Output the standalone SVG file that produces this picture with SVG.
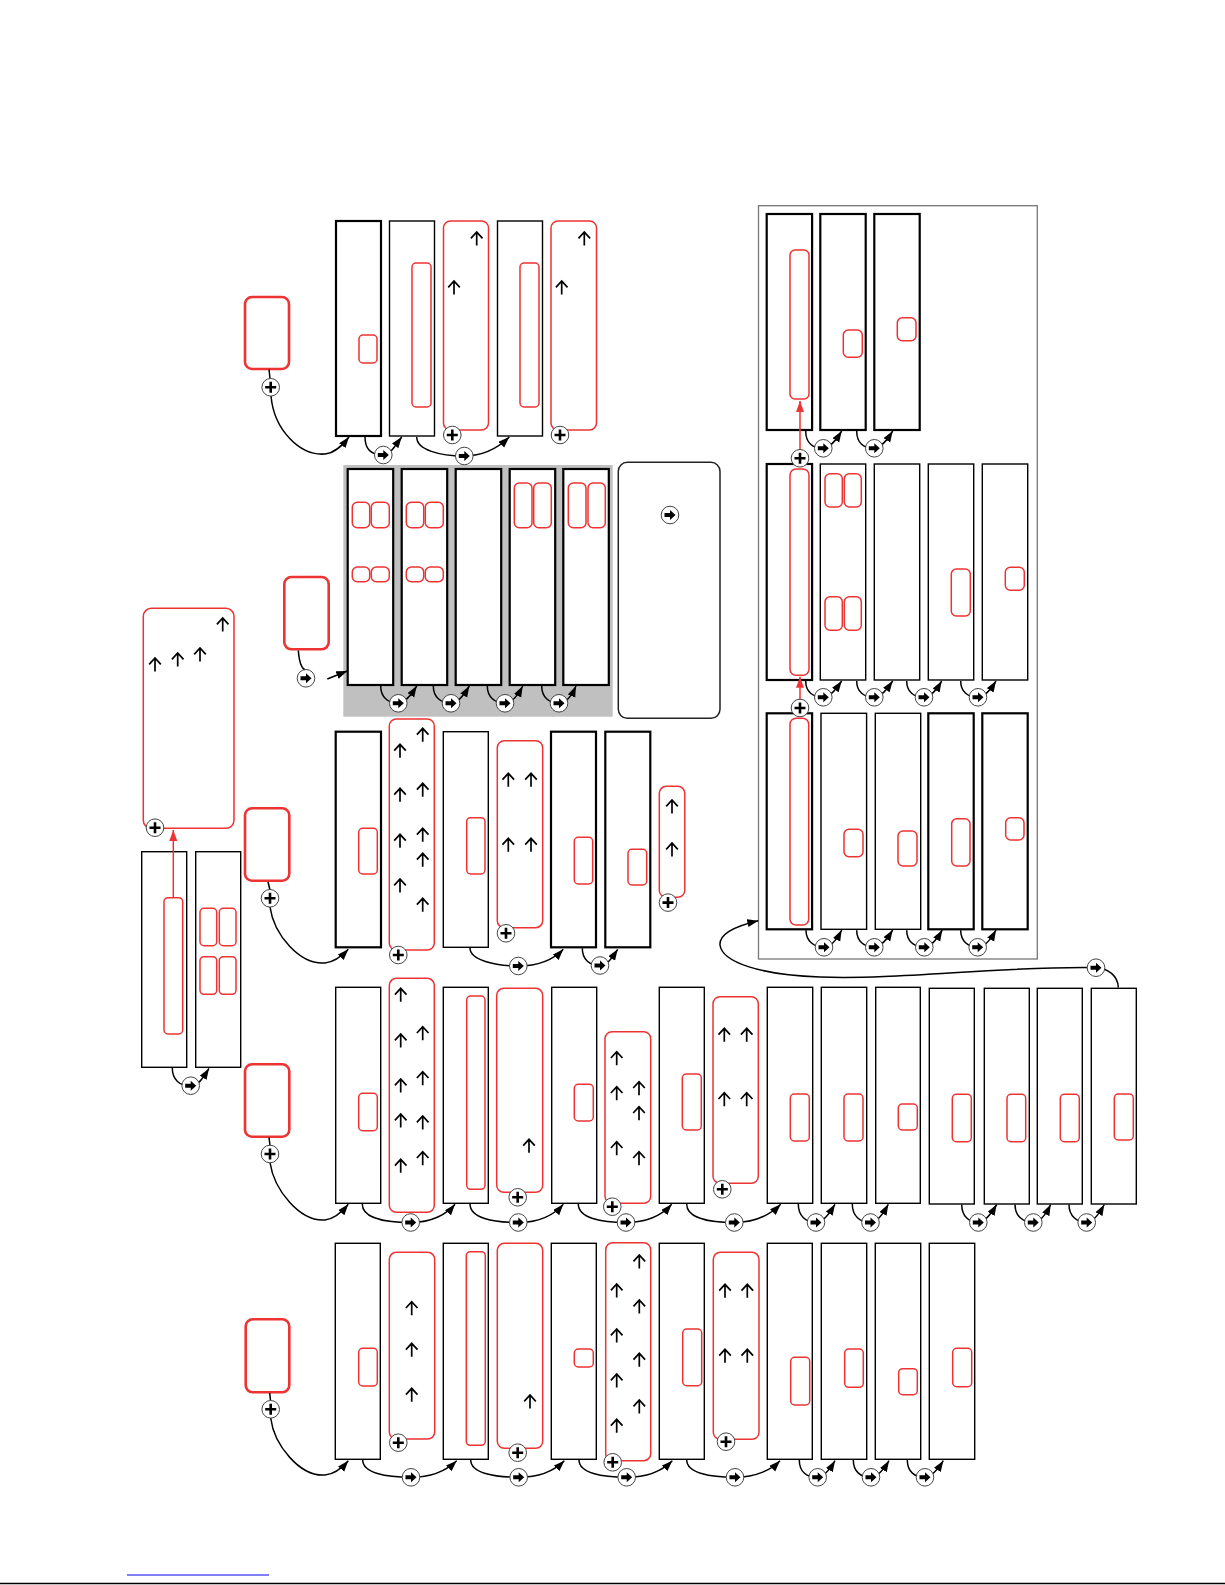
<svg xmlns="http://www.w3.org/2000/svg" xmlns:xlink="http://www.w3.org/1999/xlink" width="1225" height="1585" viewBox="0 0 1225 1585">
<style>
.rk{fill:#fff;stroke:#000;stroke-width:2.2}
.rn{fill:#fff;stroke:#000;stroke-width:1.4}
.rr{fill:none;stroke:#ee3333;stroke-width:1.5}
.rt{fill:#fff;stroke:#ee3333;stroke-width:2.6}
.cn{fill:none;stroke:#000;stroke-width:1.5;marker-end:url(#ah)}
.cl{fill:none;stroke:#000;stroke-width:1.5}
.ra{fill:none;stroke:#ee3333;stroke-width:1.5;marker-end:url(#ahr)}
.ua{fill:none;stroke:#000;stroke-width:1.7}
</style>
<defs>
<marker id="ah" markerWidth="12" markerHeight="9" refX="11" refY="4" orient="auto" markerUnits="userSpaceOnUse"><path d="M0,0 L11,4 L0,8 z" fill="#000"/></marker>
<marker id="ahr" markerWidth="12" markerHeight="9" refX="11" refY="4" orient="auto" markerUnits="userSpaceOnUse"><path d="M0,0 L11,4 L0,8 z" fill="#ee3333"/></marker>
<g id="pl"><circle r="8.8" fill="#fff" stroke="#444" stroke-width="1"/><path d="M-5.5,0 H5.5 M0,-5.5 V5.5" stroke="#000" stroke-width="2.6"/></g>
<g id="go"><circle r="8.8" fill="#fff" stroke="#444" stroke-width="1"/><path d="M-5.5,-2 H0 V-5 L5.5,0 L0,5 V2 H-5.5 Z" fill="#000"/></g>
<path id="ua" class="ua" d="M0,0 V13.5 M-5.8,6.3 L0,0 L5.8,6.3"/>
</defs>
<rect width="1225" height="1585" fill="#fff"/>

<rect x="343.3" y="465" width="269.4" height="251.7" fill="#c0c0c0"/>
<rect id="panel" x="758.5" y="205.7" width="278.8" height="753.3" fill="none" stroke="#777" stroke-width="1.3"/>

<!-- ROW 1 -->
<g id="r1-start"><rect class="rt" x="245" y="297" width="44" height="72" rx="7"/></g>
<g id="r1-n1"><rect class="rk" x="336" y="221" width="45" height="215"/><rect class="rr" x="359" y="335" width="18" height="28" rx="4"/></g>
<g id="r1-n2"><rect class="rn" x="389.5" y="221" width="45" height="215"/><rect class="rr" x="412" y="263" width="19" height="144" rx="4"/></g>
<g id="r1-n3"><rect class="rr" x="443.5" y="221" width="45" height="209" rx="7"/><use href="#ua" x="476.7" y="232"/><use href="#ua" x="454" y="281"/></g>
<g id="r1-n4"><rect class="rn" x="497.5" y="221" width="45" height="215"/><rect class="rr" x="520" y="263" width="19" height="144" rx="4"/></g>
<g id="r1-n5"><rect class="rr" x="551" y="221" width="45.5" height="209" rx="7"/><use href="#ua" x="584.3" y="232"/><use href="#ua" x="561.7" y="281"/></g>

<!-- ROW 2 (gray) -->
<g id="r2-start"><rect class="rt" x="284.3" y="577" width="44.4" height="72.3" rx="7"/></g>
<g id="r2-n1"><rect class="rk" x="347.7" y="469" width="45.5" height="216"/>
<rect class="rr" x="352.3" y="502.3" width="17.4" height="25.4" rx="5"/><rect class="rr" x="371.3" y="502.3" width="18" height="25.4" rx="5"/>
<rect class="rr" x="352.3" y="567" width="17.4" height="14.7" rx="5"/><rect class="rr" x="371.3" y="567" width="18" height="14.7" rx="5"/></g>
<g id="r2-n2"><rect class="rk" x="401.7" y="469" width="45.5" height="216"/>
<rect class="rr" x="406.3" y="502.3" width="17.4" height="25.4" rx="5"/><rect class="rr" x="425.3" y="502.3" width="18" height="25.4" rx="5"/>
<rect class="rr" x="406.3" y="567" width="17.4" height="14.7" rx="5"/><rect class="rr" x="425.3" y="567" width="18" height="14.7" rx="5"/></g>
<g id="r2-n3"><rect class="rk" x="455.7" y="469" width="45.5" height="216"/></g>
<g id="r2-n4"><rect class="rk" x="509.7" y="469" width="45.5" height="216"/>
<rect class="rr" x="514.3" y="483" width="17.7" height="44.7" rx="5"/><rect class="rr" x="533.7" y="483" width="17.6" height="44.7" rx="5"/></g>
<g id="r2-n5"><rect class="rk" x="563.3" y="469" width="45.5" height="216"/>
<rect class="rr" x="568.3" y="483" width="17.7" height="44.7" rx="5"/><rect class="rr" x="588" y="483" width="17.3" height="44.7" rx="5"/></g>
<g id="legend"><rect x="618.3" y="462.3" width="101.7" height="256" rx="9" fill="#fff" stroke="#222" stroke-width="1.5"/><use href="#go" x="670" y="515"/></g>

<!-- LEFT pair -->
<g id="l-big"><rect class="rr" x="143.3" y="608.3" width="90.7" height="220" rx="8"/>
<use href="#ua" x="222.7" y="618"/><use href="#ua" x="155" y="658"/><use href="#ua" x="177.7" y="653"/><use href="#ua" x="200" y="648"/></g>
<g id="l-a"><rect class="rn" x="141.7" y="851.7" width="45" height="215.6"/><rect class="rr" x="164" y="897.7" width="18.7" height="136.3" rx="4"/></g>
<g id="l-b"><rect class="rn" x="195.7" y="851.7" width="45" height="215.6"/>
<rect class="rr" x="200" y="908.3" width="16.7" height="37.4" rx="4"/><rect class="rr" x="219.3" y="908.3" width="16.7" height="37.4" rx="4"/>
<rect class="rr" x="200" y="956.7" width="16.7" height="37.6" rx="4"/><rect class="rr" x="219.3" y="956.7" width="16.7" height="37.6" rx="4"/></g>

<!-- ROW 3 -->
<g id="r3-start"><rect class="rt" x="245" y="808.3" width="44.3" height="72.4" rx="7"/></g>
<g id="r3-n1"><rect class="rk" x="335.7" y="731.7" width="45.3" height="215.6"/><rect class="rr" x="358.7" y="828.3" width="18.6" height="45.7" rx="4"/></g>
<g id="r3-n2"><rect class="rr" x="389.3" y="719" width="45" height="231" rx="7"/>
<use href="#ua" x="400" y="744.3"/><use href="#ua" x="400" y="788.3"/><use href="#ua" x="400" y="834.3"/><use href="#ua" x="400" y="879"/>
<use href="#ua" x="422.7" y="728.3"/><use href="#ua" x="422.7" y="783.3"/><use href="#ua" x="422.7" y="828.3"/><use href="#ua" x="422.7" y="853.3"/><use href="#ua" x="422.7" y="898.3"/></g>
<g id="r3-n3"><rect class="rn" x="443.3" y="731.7" width="45" height="215.6"/><rect class="rr" x="466.7" y="817.7" width="18.3" height="56.3" rx="4"/></g>
<g id="r3-n4"><rect class="rr" x="497.3" y="740.7" width="45.4" height="187" rx="7"/>
<use href="#ua" x="508.3" y="773.3"/><use href="#ua" x="531" y="773.3"/><use href="#ua" x="508.3" y="838.3"/><use href="#ua" x="531" y="838.3"/></g>
<g id="r3-n5"><rect class="rk" x="551" y="731.7" width="45" height="215.6"/><rect class="rr" x="574.3" y="837.3" width="18.4" height="46.7" rx="4"/></g>
<g id="r3-n6"><rect class="rk" x="605.3" y="731.7" width="45" height="215.6"/><rect class="rr" x="628" y="849.3" width="18.7" height="35.7" rx="4"/></g>
<g id="r3-n7"><rect class="rr" x="659.3" y="786.3" width="25.5" height="111" rx="7"/><use href="#ua" x="672" y="800"/><use href="#ua" x="672" y="843"/></g>

<!-- RIGHT PANEL row A -->
<g id="pa-1"><rect class="rk" x="766.7" y="214" width="45.4" height="216"/><rect class="rr" x="790" y="250" width="19" height="149" rx="5"/></g>
<g id="pa-2"><rect class="rk" x="820.3" y="214" width="45.4" height="216"/><rect class="rr" x="843.3" y="330" width="19" height="27.3" rx="5"/></g>
<g id="pa-3"><rect class="rk" x="874.3" y="214" width="45.4" height="216"/><rect class="rr" x="897.3" y="317.7" width="18.7" height="23" rx="5"/></g>
<!-- row B -->
<g id="pb-1"><rect class="rk" x="766.7" y="464" width="45.4" height="216"/><rect class="rr" x="790" y="469" width="19" height="206.3" rx="6"/></g>
<g id="pb-2"><rect class="rn" x="820.3" y="464" width="45.4" height="216"/>
<rect class="rr" x="825" y="473.7" width="17.3" height="33.3" rx="5"/><rect class="rr" x="844.3" y="473.7" width="17" height="33.3" rx="5"/>
<rect class="rr" x="825" y="596.7" width="17.3" height="33.6" rx="5"/><rect class="rr" x="844.3" y="596.7" width="17" height="33.6" rx="5"/></g>
<g id="pb-3"><rect class="rn" x="874.3" y="464" width="45.4" height="216"/></g>
<g id="pb-4"><rect class="rn" x="928.3" y="464" width="45.4" height="216"/><rect class="rr" x="951.3" y="569" width="19" height="47" rx="5"/></g>
<g id="pb-5"><rect class="rn" x="982.3" y="464" width="45.4" height="216"/><rect class="rr" x="1005.3" y="567.3" width="19" height="23" rx="5"/></g>
<!-- row C -->
<g id="pc-1"><rect class="rk" x="766.7" y="713.3" width="45.4" height="216"/><rect class="rr" x="790" y="718.3" width="18.7" height="206.7" rx="6"/></g>
<g id="pc-2"><rect class="rn" x="821" y="713.3" width="45.6" height="216"/><rect class="rr" x="844" y="829.3" width="19" height="27.4" rx="5"/></g>
<g id="pc-3"><rect class="rn" x="875.3" y="713.3" width="45.4" height="216"/><rect class="rr" x="898" y="831" width="19" height="35" rx="5"/></g>
<g id="pc-4"><rect class="rk" x="928.3" y="713.3" width="45.4" height="216"/><rect class="rr" x="951.7" y="818.7" width="18.3" height="47.3" rx="5"/></g>
<g id="pc-5"><rect class="rk" x="982.3" y="713.3" width="45.4" height="216"/><rect class="rr" x="1005.7" y="817.7" width="18.3" height="22.3" rx="5"/></g>

<!-- ROW 4 -->
<g id="r4-start"><rect class="rt" x="245" y="1064.3" width="44.3" height="72.4" rx="7"/></g>
<g id="r4-n1"><rect class="rn" x="335.7" y="987.3" width="45" height="216"/><rect class="rr" x="358.7" y="1093.3" width="18.6" height="37.4" rx="4"/></g>
<g id="r4-n2"><rect class="rr" x="389.3" y="978.3" width="45" height="234" rx="7"/>
<use href="#ua" x="400.7" y="988.3"/><use href="#ua" x="400.7" y="1034"/><use href="#ua" x="400.7" y="1079"/><use href="#ua" x="400.7" y="1114"/><use href="#ua" x="400.7" y="1159.3"/>
<use href="#ua" x="422.7" y="1026.7"/><use href="#ua" x="422.7" y="1071.7"/><use href="#ua" x="422.7" y="1116"/><use href="#ua" x="422.7" y="1151.7"/></g>
<g id="r4-n3"><rect class="rn" x="443.3" y="987.3" width="45" height="216"/><rect class="rr" x="466.7" y="996" width="18.3" height="193.3" rx="4"/></g>
<g id="r4-n4"><rect class="rr" x="496.7" y="988.3" width="46" height="204" rx="7"/><use href="#ua" x="529" y="1139.3"/></g>
<g id="r4-n5"><rect class="rn" x="551.7" y="987.3" width="45" height="216"/><rect class="rr" x="574.3" y="1084.3" width="19" height="36.7" rx="4"/></g>
<g id="r4-n6"><rect class="rr" x="605" y="1031.7" width="45.7" height="171.6" rx="7"/>
<use href="#ua" x="616.7" y="1051.7"/><use href="#ua" x="616.7" y="1086.7"/><use href="#ua" x="616.7" y="1141.7"/>
<use href="#ua" x="639" y="1081.7"/><use href="#ua" x="639" y="1106.7"/><use href="#ua" x="639" y="1151.7"/></g>
<g id="r4-n7"><rect class="rn" x="659.3" y="987.3" width="45" height="216"/><rect class="rr" x="682.3" y="1074" width="19" height="56" rx="4"/></g>
<g id="r4-n8"><rect class="rr" x="713" y="996.7" width="45.3" height="186.6" rx="7"/>
<use href="#ua" x="724.3" y="1028.3"/><use href="#ua" x="746.7" y="1028.3"/><use href="#ua" x="724.3" y="1092.7"/><use href="#ua" x="746.7" y="1092.7"/></g>
<g id="r4-n9"><rect class="rn" x="767.3" y="987.3" width="45.4" height="216"/><rect class="rr" x="790.3" y="1094" width="19" height="47" rx="4"/></g>
<g id="r4-n10"><rect class="rn" x="821.3" y="987.3" width="45.4" height="216"/><rect class="rr" x="844" y="1094" width="19" height="47" rx="4"/></g>
<g id="r4-n11"><rect class="rn" x="875.7" y="987.3" width="44.6" height="216"/><rect class="rr" x="898.3" y="1104" width="19" height="26" rx="4"/></g>
<g id="r4-n12"><rect class="rn" x="929.3" y="988.3" width="45" height="215.7"/><rect class="rr" x="952.3" y="1094.3" width="19" height="47.4" rx="4"/></g>
<g id="r4-n13"><rect class="rn" x="984.3" y="988.3" width="45" height="215.7"/><rect class="rr" x="1007" y="1094.3" width="18.7" height="47.4" rx="4"/></g>
<g id="r4-n14"><rect class="rn" x="1037.3" y="988.3" width="45" height="215.7"/><rect class="rr" x="1060.3" y="1094.3" width="19" height="47.4" rx="4"/></g>
<g id="r4-n15"><rect class="rn" x="1091.3" y="988.3" width="45" height="215.7"/><rect class="rr" x="1114.3" y="1094" width="19" height="46" rx="4"/></g>

<!-- ROW 5 -->
<g id="r5-start"><rect class="rt" x="245.7" y="1319.3" width="43.6" height="73" rx="7"/></g>
<g id="r5-n1"><rect class="rn" x="335.3" y="1243.3" width="45" height="216"/><rect class="rr" x="358.7" y="1348.3" width="18.6" height="37.7" rx="4"/></g>
<g id="r5-n2"><rect class="rr" x="389.3" y="1252.3" width="45.4" height="186.7" rx="7"/>
<use href="#ua" x="411.7" y="1301.7"/><use href="#ua" x="411.7" y="1343.3"/><use href="#ua" x="411.7" y="1388.3"/></g>
<g id="r5-n3"><rect class="rn" x="443.3" y="1243.3" width="45" height="216"/><rect class="rr" x="466.3" y="1251.7" width="19" height="193.6" rx="4"/></g>
<g id="r5-n4"><rect class="rr" x="497.3" y="1243.3" width="45.4" height="205" rx="7"/><use href="#ua" x="530" y="1395"/></g>
<g id="r5-n5"><rect class="rn" x="551.3" y="1243.3" width="45" height="216"/><rect class="rr" x="574.3" y="1349" width="19" height="18" rx="4"/></g>
<g id="r5-n6"><rect class="rr" x="605.7" y="1242.7" width="45" height="218" rx="7"/>
<use href="#ua" x="616.7" y="1284"/><use href="#ua" x="616.7" y="1329"/><use href="#ua" x="616.7" y="1374"/><use href="#ua" x="616.7" y="1419.3"/>
<use href="#ua" x="639.3" y="1255"/><use href="#ua" x="639.3" y="1300"/><use href="#ua" x="639.3" y="1353.3"/><use href="#ua" x="639.3" y="1400"/></g>
<g id="r5-n7"><rect class="rn" x="659.3" y="1243.3" width="45" height="216"/><rect class="rr" x="682.7" y="1329" width="19" height="56.7" rx="4"/></g>
<g id="r5-n8"><rect class="rr" x="713.3" y="1252.3" width="45.7" height="187" rx="7"/>
<use href="#ua" x="725" y="1284.3"/><use href="#ua" x="747.3" y="1284.3"/><use href="#ua" x="725" y="1349.3"/><use href="#ua" x="747.3" y="1349.3"/></g>
<g id="r5-n9"><rect class="rn" x="767.3" y="1243.3" width="45" height="216"/><rect class="rr" x="790.7" y="1357.3" width="19" height="47.7" rx="4"/></g>
<g id="r5-n10"><rect class="rn" x="821.3" y="1243.3" width="45.4" height="216"/><rect class="rr" x="844.7" y="1349" width="18.6" height="38.3" rx="4"/></g>
<g id="r5-n11"><rect class="rn" x="875.3" y="1243.3" width="45.4" height="216"/><rect class="rr" x="898.7" y="1368.7" width="18.6" height="26" rx="4"/></g>
<g id="r5-n12"><rect class="rn" x="929.3" y="1243.3" width="45.4" height="216"/><rect class="rr" x="952.7" y="1348.3" width="19" height="38.4" rx="4"/></g>

<g id="connectors">
<path class="cl" d="M269,369.5 L270,378.5"/>
<path class="cn" d="M271,396 C274,430 300,456 325,454 C335,453 342,446 349,437"/>
<path class="cn" d="M365,437 C365,450 372,455 383,455 C390,455 395,446 401.7,437"/>
<path class="cn" d="M416.7,437 C416.7,450 440,456 464,456 C485,456 500,446 509.3,437"/>
<path class="cl" d="M298.3,650.5 C299,660 301,668 305,670"/>
<path class="cn" d="M327.3,679 L347.3,671"/>
<path class="cn" d="M380.7,686 C380.7,697 388,703.3 398.3,703.3 C405,703.3 411,695 416.7,686"/>
<path class="cn" d="M433.3,686 C433.3,697 441,703.3 451,703.3 C458,703.3 464,695 469.3,686"/>
<path class="cn" d="M487.3,686 C487.3,697 495,703.3 505,703.3 C512,703.3 518,695 522.7,686"/>
<path class="cn" d="M541.7,686 C541.7,697 549,703.3 559,703.3 C566,703.3 572,695 576,686"/>
<path class="ra" d="M173.3,898 L173.3,830"/>
<path class="cn" d="M172.3,1068 C172.3,1080 180,1086 190.7,1086 C198,1086 203,1078 209,1068.5"/>
<path class="cl" d="M268,882 L270,890"/>
<path class="cn" d="M270,907 C274,935 300,965 325,963 C335,962 342,956 348.3,949.3"/>
<path class="cn" d="M470,948 C470,960 495,966 518.3,966 C540,966 555,958 563.3,949.3"/>
<path class="cn" d="M582.3,948.3 C582.3,960 590,965.5 600,965.5 C607,965.5 612,958 617.7,949.3"/>
<path class="ra" d="M800,450 L800,401"/>
<path class="ra" d="M800,700 L800,676.7"/>
<path class="cn" d="M805.7,431 C805.7,443 813,448.3 823.3,448.3 C830,448.3 836,440 841.7,431"/>
<path class="cn" d="M856.7,431 C856.7,443 864,448.3 874.3,448.3 C881,448.3 887,440 892.7,431"/>
<path class="cn" d="M805.7,681 C805.7,692 813,697.3 823.3,697.3 C830,697.3 836,689 841.7,681"/>
<path class="cn" d="M856.7,681 C856.7,692 864,697.3 874.3,697.3 C881,697.3 887,689 892.7,681"/>
<path class="cn" d="M906.7,681 C906.7,692 914,697.3 924,697.3 C931,697.3 937,689 941.7,681"/>
<path class="cn" d="M960.7,681 C960.7,692 968,697.3 978,697.3 C985,697.3 991,689 996,681"/>
<path class="cn" d="M806,930.3 C806,941 814,947.3 824,947.3 C831,947.3 837,939 841.7,930"/>
<path class="cn" d="M856.7,930.3 C856.7,941 864,947.3 874.3,947.3 C881,947.3 887,939 892.7,930"/>
<path class="cn" d="M906.7,930.3 C906.7,941 914,947.3 924.3,947.3 C931,947.3 937,939 942.3,930"/>
<path class="cn" d="M960.7,930.3 C960.7,941 968,947.3 977.7,947.3 C985,947.3 991,939 996,930"/>
<path class="cl" d="M1118.3,987.5 C1118,976 1108,968 1096,967.7"/>
<path class="cn" d="M1096,967.7 C1000,966 900,980 820,977 C760,975 722,962 720,945 C719,932 740,925 758.3,920.7"/>
<path class="cl" d="M269,1137.5 L270,1145.5"/>
<path class="cn" d="M270,1162.5 C274,1190 300,1222 325,1220 C335,1219 342,1212 348.3,1204.3"/>
<path class="cn" d="M362.3,1204 C362.3,1218 385,1222.5 410.7,1222.5 C432,1222.5 447,1214 455,1204.3"/>
<path class="cn" d="M470,1204 C470,1218 493,1222.5 518.3,1222.5 C540,1222.5 555,1214 563.3,1204.3"/>
<path class="cn" d="M578.3,1204 C578.3,1218 601,1222.5 626,1222.5 C648,1222.5 663,1214 671.7,1204.3"/>
<path class="cn" d="M686.7,1204 C686.7,1218 709,1222.5 734.3,1222.5 C756,1222.5 771,1214 780.7,1204.3"/>
<path class="cn" d="M798.3,1204 C798.3,1216 806,1222.5 816,1222.5 C823,1222.5 829,1214 835,1204.3"/>
<path class="cn" d="M852.3,1204 C852.3,1216 860,1222.5 870.5,1222.5 C877,1222.5 883,1214 888.3,1204.3"/>
<path class="cn" d="M961.7,1204.5 C961.7,1216 969,1222.5 978.3,1222.5 C985,1222.5 991,1214 996.7,1204.5"/>
<path class="cn" d="M1015,1204.5 C1015,1216 1023,1222.5 1033.3,1222.5 C1040,1222.5 1046,1214 1050.7,1204.5"/>
<path class="cn" d="M1069,1204.5 C1069,1216 1077,1222.5 1086.7,1222.5 C1093,1222.5 1099,1214 1104.3,1204.5"/>
<path class="cl" d="M269.7,1393 L270.5,1400.5"/>
<path class="cn" d="M270.7,1418 C274,1445 300,1477 325,1475 C335,1474 342,1468 348.3,1460.7"/>
<path class="cn" d="M362.7,1460 C362.7,1473 386,1477.3 411,1477.3 C433,1477.3 448,1469 456.7,1460.7"/>
<path class="cn" d="M470.7,1460 C470.7,1473 494,1477.3 518.7,1477.3 C541,1477.3 556,1469 564.3,1460.7"/>
<path class="cn" d="M579,1460 C579,1473 602,1477.3 626.7,1477.3 C649,1477.3 664,1469 672.3,1460.7"/>
<path class="cn" d="M686.7,1460 C686.7,1473 710,1477.3 735,1477.3 C757,1477.3 772,1469 780,1460.7"/>
<path class="cn" d="M799.3,1460 C799.3,1472 807,1477.3 817.7,1477.3 C824,1477.3 830,1469 835,1460.7"/>
<path class="cn" d="M853.3,1460 C853.3,1472 861,1477.3 871,1477.3 C878,1477.3 884,1469 889,1460.7"/>
<path class="cn" d="M907.3,1460 C907.3,1472 915,1477.3 925,1477.3 C932,1477.3 938,1469 943.3,1460.7"/>
</g>

<g id="markers">
<use href="#pl" x="270.7" y="387.3"/>
<use href="#go" x="383.3" y="455"/>
<use href="#go" x="464.3" y="456"/>
<use href="#pl" x="452.3" y="435"/>
<use href="#pl" x="560" y="435"/>
<use href="#go" x="306" y="678.3"/>
<use href="#go" x="398.3" y="703.3"/>
<use href="#go" x="451" y="703.3"/>
<use href="#go" x="505" y="703.3"/>
<use href="#go" x="559" y="703.3"/>
<use href="#pl" x="155" y="827.7"/>
<use href="#go" x="190.7" y="1085.7"/>
<use href="#pl" x="270" y="898.3"/>
<use href="#pl" x="398.3" y="955"/>
<use href="#pl" x="506" y="933.3"/>
<use href="#go" x="518.3" y="966"/>
<use href="#go" x="600" y="965.5"/>
<use href="#pl" x="668" y="902.6"/>
<use href="#pl" x="800" y="458.3"/>
<use href="#pl" x="800" y="708"/>
<use href="#go" x="823.3" y="448.3"/>
<use href="#go" x="874.3" y="448.3"/>
<use href="#go" x="823.3" y="697.3"/>
<use href="#go" x="874.3" y="697.3"/>
<use href="#go" x="924" y="697.3"/>
<use href="#go" x="978" y="697.3"/>
<use href="#go" x="824" y="947.3"/>
<use href="#go" x="874.3" y="947.3"/>
<use href="#go" x="924.3" y="947.3"/>
<use href="#go" x="977.7" y="947.3"/>
<use href="#go" x="1096" y="967.7"/>
<use href="#pl" x="270" y="1154"/>
<use href="#pl" x="517.7" y="1197.3"/>
<use href="#pl" x="612.3" y="1206.7"/>
<use href="#pl" x="722.3" y="1189.3"/>
<use href="#go" x="410.7" y="1222.5"/>
<use href="#go" x="518.3" y="1222.5"/>
<use href="#go" x="626" y="1222.5"/>
<use href="#go" x="734.3" y="1222.5"/>
<use href="#go" x="816" y="1222.5"/>
<use href="#go" x="870.5" y="1222.5"/>
<use href="#go" x="978.3" y="1222.5"/>
<use href="#go" x="1033.3" y="1222.5"/>
<use href="#go" x="1086.7" y="1222.5"/>
<use href="#pl" x="270.7" y="1409.3"/>
<use href="#pl" x="398.3" y="1442.7"/>
<use href="#pl" x="517.7" y="1452.7"/>
<use href="#pl" x="612.7" y="1462.3"/>
<use href="#pl" x="726" y="1441.7"/>
<use href="#go" x="411" y="1477.3"/>
<use href="#go" x="518.7" y="1477.3"/>
<use href="#go" x="626.7" y="1477.3"/>
<use href="#go" x="735" y="1477.3"/>
<use href="#go" x="817.7" y="1477.3"/>
<use href="#go" x="871" y="1477.3"/>
<use href="#go" x="925" y="1477.3"/>
</g>

<line x1="127" y1="1575" x2="269" y2="1575" stroke="#0000ee" stroke-width="1"/>
<line x1="0" y1="1583.5" x2="1225" y2="1583.5" stroke="#000" stroke-width="1.5"/>
</svg>
